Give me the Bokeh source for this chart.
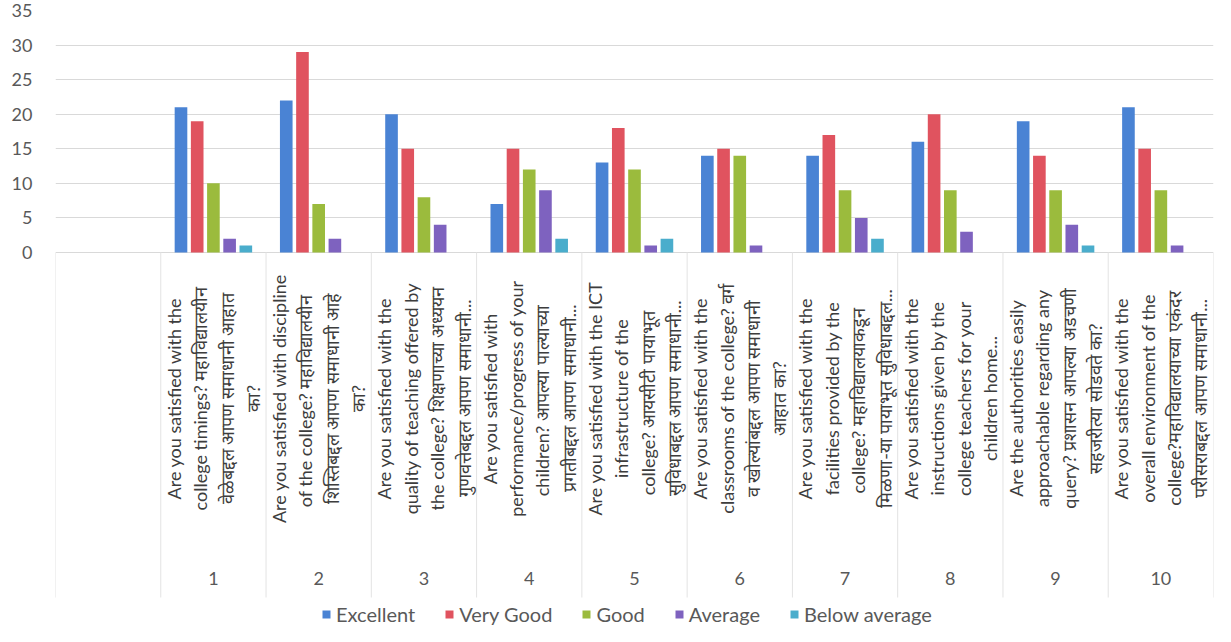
import numpy as np
from bokeh.plotting import figure
from bokeh.models import ColumnDataSource, FactorRange, Range1d, FixedTicker
from bokeh.transform import dodge
from bokeh.core.properties import value
from bokeh.embed import file_html
from bokeh.resources import INLINE

# ---------------- data ----------------
categories = ["1", "2", "3", "4", "5", "6", "7", "8", "9", "10"]
questions = [
    "Are you satisfied with the\ncollege timings? महाविद्यालयीन\nवेळेबद्दल आपण समाधानी आहात\nका?",
    "Are you satisfied with discipline\nof the college?  महाविद्यालयीन\nशिस्तिबद्दल आपण समाधानी आहे\nका?",
    "Are you satisfied with the\nquality of teaching offered by\nthe college? शिक्षणाच्या अध्ययन\nगुणवत्तेबद्दल आपण समाधानी...",
    "Are you satisfied with\nperformance/progress of your\nchildren?  आपल्या पाल्याच्या\nप्रगतीबद्दल आपण समाधानी...",
    "Are you satisfied with the ICT\ninfrastructure of the\ncollege?  आयसीटी  पायाभूत\nसुविधाबद्दल आपण समाधानी...",
    "Are you satisfied with the\nclassrooms of the college? वर्ग\nव खोल्यांबद्दल आपण समाधानी\nआहात का?",
    "Are you satisfied with the\nfacilities provided by the\ncollege?  महाविद्यालयाकडून\nमिळणा-या पायाभूत सुविधाबद्दल...",
    "Are you satisfied with the\ninstructions given by the\ncollege teachers for your\nchildren home...",
    "Are the authorities easily\napproachable regarding any\nquery? प्रशासन आपल्या अडचणी\nसहजरीत्या सोडवते का?",
    "Are you satisfied with the\noverall environment of the\ncollege?महाविद्यालयाच्या एकंदर\nपरीसराबद्दल आपण समाधानी...",
]
excellent = [21, 22, 20, 7, 13, 14, 14, 16, 19, 21]
very_good = [19, 29, 15, 15, 18, 15, 17, 20, 14, 15]
good = [10, 7, 8, 12, 12, 14, 9, 9, 9, 9]
average = [2, 2, 4, 9, 1, 1, 5, 3, 4, 1]
below_average = [1, 0, 0, 2, 2, 0, 2, 0, 1, 0]
series_names = ["Excellent", "Very Good", "Good", "Average", "Below average"]
y_ticks = [0, 5, 10, 15, 20, 25, 30, 35]

# ---------------- styling ----------------
colors = ["#4a83d4", "#e0535f", "#9bbb3d", "#7e62bf", "#4aadcc"]
FONT = "Lato"
W, H = 1215, 626
frame_left = 55
frame_top, zero_at, frame_bottom = 10, 252, 626
ymax = 35
ymin = -ymax * (frame_bottom - zero_at) / (zero_at - frame_top)
px = (zero_at - frame_top) / ymax  # pixels per unit


def y_of(fig_px):
    return -(fig_px - zero_at) / px


all_factors = [" "] + categories
src = ColumnDataSource(dict(
    cat=categories, q=questions,
    s0=excellent, s1=very_good, s2=good, s3=average, s4=below_average,
    qy=[y_of(398)] * len(categories),
    ny=[y_of(578)] * len(categories),
))

p = figure(width=W, height=H, output_backend="svg", toolbar_location=None,
           x_range=FactorRange(factors=all_factors, range_padding=0, factor_padding=0),
           y_range=Range1d(ymin, ymax), x_axis_location=None,
           min_border_left=frame_left, min_border_right=2, min_border_top=frame_top,
           min_border_bottom=0)
p.outline_line_color = None
p.background_fill_color = "white"
p.border_fill_color = "white"
p.xgrid.grid_line_color = None
p.ygrid.ticker = FixedTicker(ticks=y_ticks)
p.ygrid.grid_line_color = "#d9d9d9"
p.ygrid.grid_line_width = 1

yax = p.yaxis[0]
yax.ticker = FixedTicker(ticks=y_ticks)
yax.axis_line_color = None
yax.major_tick_line_color = None
yax.minor_tick_line_color = None
yax.major_label_standoff = 17
yax.major_label_text_font = FONT
yax.major_label_text_font_size = "18px"
yax.major_label_text_color = "#595959"

offsets = [-0.308, -0.154, 0.0, 0.154, 0.308]
for k, name in enumerate(series_names):
    p.vbar(x=dodge("cat", offsets[k], range=p.x_range), top="s%d" % k, bottom=0,
           width=0.12, source=src, color=colors[k], line_color=None,
           legend_label=name)

# category dividers in the label area
div_src = ColumnDataSource(dict(f=all_factors, y0=[0] * len(all_factors),
                                y1=[y_of(597)] * len(all_factors)))
p.segment(x0=dodge("f", -0.5, range=p.x_range), x1=dodge("f", -0.5, range=p.x_range),
          y0="y0", y1="y1", source=div_src, line_color="#e3e3e3", line_width=1)
end_src = ColumnDataSource(dict(f=[categories[-1]], y0=[0], y1=[y_of(597)]))
p.segment(x0=dodge("f", 0.5, range=p.x_range), x1=dodge("f", 0.5, range=p.x_range),
          y0="y0", y1="y1", source=end_src, line_color="#e3e3e3", line_width=1)

# rotated question labels
p.text(x="cat", y="qy", text="q", source=src, angle=np.pi / 2,
       text_align="center", text_baseline="middle", text_font=value(FONT),
       text_font_size="18px", text_color="#3d3d3d", text_line_height=1.2)
# category numbers
p.text(x="cat", y="ny", text="cat", source=src, text_align="center",
       text_baseline="middle", text_font=value(FONT), text_font_size="18px",
       text_color="#595959")

lg = p.legend[0]
lg.orientation = "horizontal"
lg.location = (321 - frame_left, 0)
lg.border_line_color = None
lg.background_fill_alpha = 0
lg.label_text_font = FONT
lg.label_text_font_size = "20px"
lg.label_text_color = "#595959"
lg.glyph_width = 10
lg.glyph_height = 10
lg.label_standoff = 5
lg.spacing = 29
lg.padding = 0
lg.margin = 0
lg.label_height = 20

open("out.html", "w").write(file_html(p, INLINE))
